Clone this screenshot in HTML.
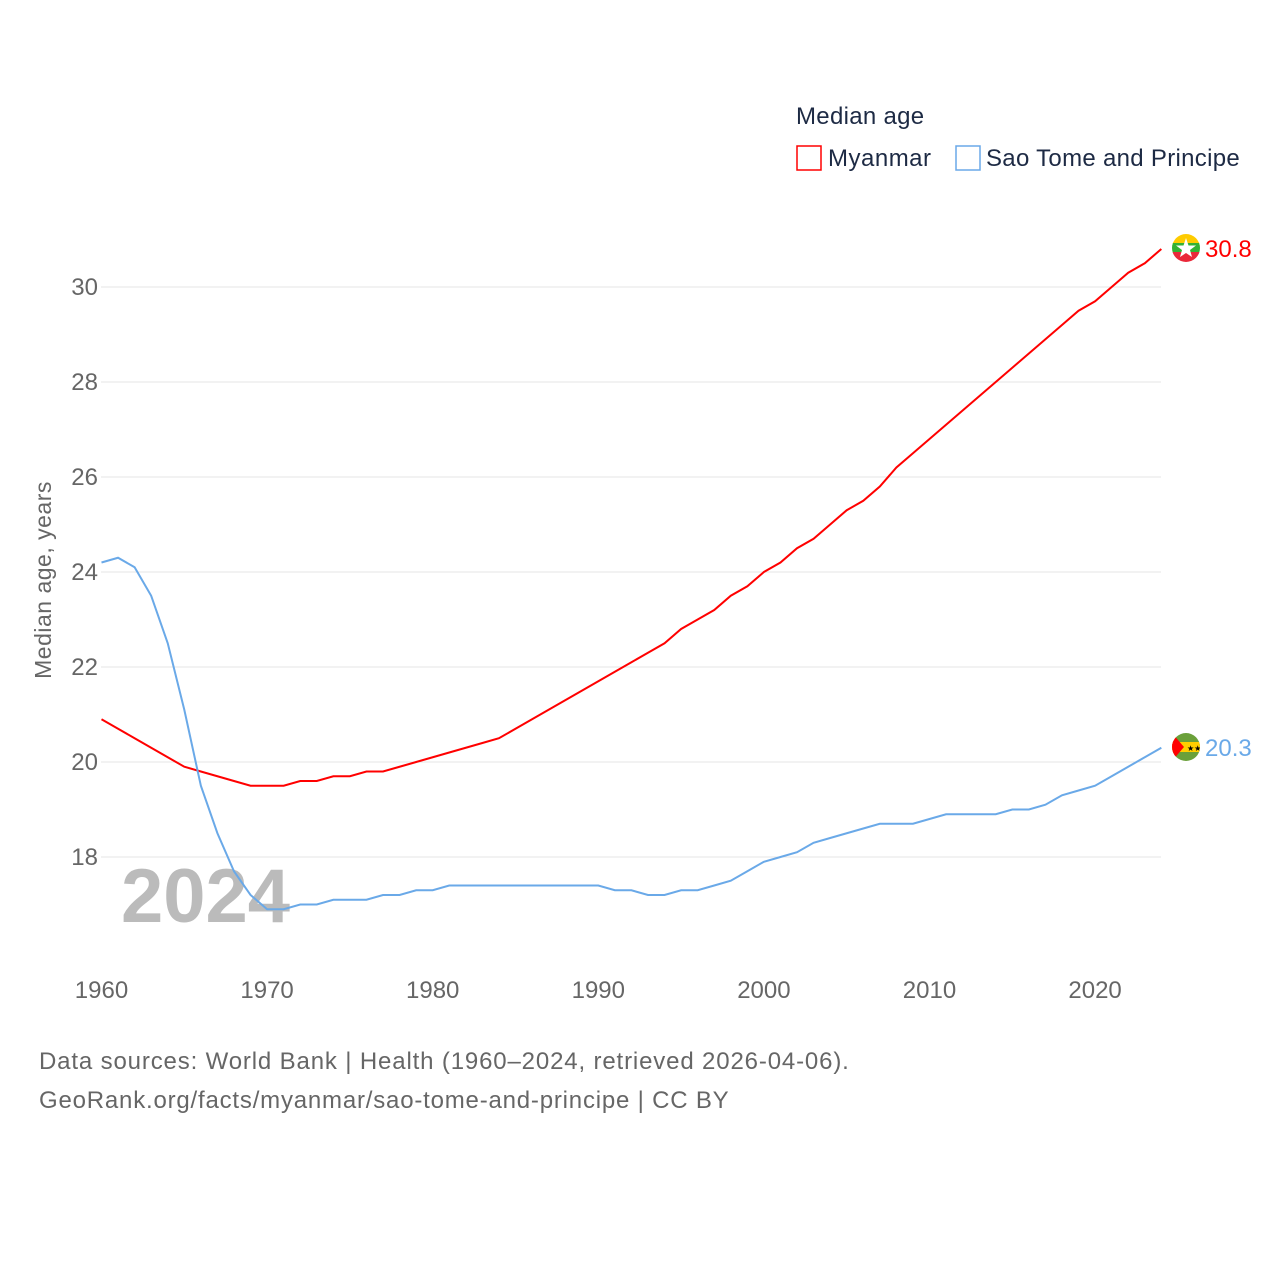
<!DOCTYPE html>
<html><head><meta charset="utf-8"><style>
body{margin:0;background:#fff;font-family:"Liberation Sans",sans-serif;}
svg text{font-family:"Liberation Sans",sans-serif;}
</style></head><body>
<svg id="chart" width="1280" height="1280" xmlns="http://www.w3.org/2000/svg">
<defs>
<clipPath id="c1"><circle cx="1186" cy="248" r="14"/></clipPath>
<clipPath id="c2"><circle cx="1186" cy="747" r="14"/></clipPath>
</defs>
<g id="grid"></g>
<g id="yticks"></g>
<g id="xticks"></g>
<text x="121" y="922" font-size="76" font-weight="bold" fill="#bbb">2024</text>
<text transform="translate(51,580) rotate(-90)" text-anchor="middle" font-size="23" fill="#666" letter-spacing="0.5">Median age, years</text>
<g id="series"></g>
<g>
<text x="796" y="124" font-size="24" fill="#1d2a44" letter-spacing="0.3">Median age</text>
<g><rect x="797" y="146" width="24" height="24" fill="none" stroke="#f00" stroke-width="1.5"/><text x="828" y="166" font-size="24" fill="#1d2a44" letter-spacing="0.5">Myanmar</text></g>
<g><rect x="956" y="146" width="24" height="24" fill="none" stroke="#6aa9e8" stroke-width="1.5"/><text x="986" y="166" font-size="24" fill="#1d2a44" letter-spacing="0.3">Sao Tome and Principe</text></g>
</g>
<text x="39" y="1069" font-size="24" fill="#666" letter-spacing="0.85">Data sources: World Bank | Health (1960–2024, retrieved 2026-04-06).</text>
<text x="39" y="1108" font-size="24" fill="#666" letter-spacing="0.8">GeoRank.org/facts/myanmar/sao-tome-and-principe | CC BY</text>
<g clip-path="url(#c1)">
<rect x="1172" y="234" width="28" height="10" fill="#fecb00"/>
<rect x="1172" y="243" width="28" height="10" fill="#34b233"/>
<rect x="1172" y="252" width="28" height="10" fill="#ea2839"/>
<polygon points="1186,238 1188.5,245.5 1196,245.5 1190,250 1192,257 1186,253 1180,257 1182,250 1176,245.5 1183.5,245.5" fill="#fff"/>
</g>
<g clip-path="url(#c2)">
<rect x="1172" y="733" width="28" height="28" fill="#6aa03a"/>
<rect x="1172" y="742" width="28" height="10" fill="#ffce00"/>
<polygon points="1172,733 1184,747 1172,761" fill="#f00"/>
<text x="1187" y="751" font-size="8" fill="#000">★★</text>
</g>
</svg>
<script>
const years=[];for(let y=1960;y<=2024;y++)years.push(y);
const myanmar=[20.9,20.7,20.5,20.3,20.1,19.9,19.8,19.7,19.6,19.5,19.5,19.5,19.6,19.6,19.7,19.7,19.8,19.8,19.9,20.0,20.1,20.2,20.3,20.4,20.5,20.7,20.9,21.1,21.3,21.5,21.7,21.9,22.1,22.3,22.5,22.8,23.0,23.2,23.5,23.7,24.0,24.2,24.5,24.7,25.0,25.3,25.5,25.8,26.2,26.5,26.8,27.1,27.4,27.7,28.0,28.3,28.6,28.9,29.2,29.5,29.7,30.0,30.3,30.5,30.8];
const saoTome=[24.2,24.3,24.1,23.5,22.5,21.1,19.5,18.5,17.7,17.2,16.9,16.9,17.0,17.0,17.1,17.1,17.1,17.2,17.2,17.3,17.3,17.4,17.4,17.4,17.4,17.4,17.4,17.4,17.4,17.4,17.4,17.3,17.3,17.2,17.2,17.3,17.3,17.4,17.5,17.7,17.9,18.0,18.1,18.3,18.4,18.5,18.6,18.7,18.7,18.7,18.8,18.9,18.9,18.9,18.9,19.0,19.0,19.1,19.3,19.4,19.5,19.7,19.9,20.1,20.3];
const yTicks=[18,20,22,24,26,28,30];
const xTicks=[1960,1970,1980,1990,2000,2010,2020];
const NS="http://www.w3.org/2000/svg";
const x=v=>101.5+(v-1960)*16.56;
const y=v=>762-(v-20)*47.5;
function el(t,a,p){const e=document.createElementNS(NS,t);for(const k in a)e.setAttribute(k,a[k]);p.appendChild(e);return e;}
const grid=document.getElementById('grid'),yt=document.getElementById('yticks'),xt=document.getElementById('xticks');
yTicks.forEach(v=>{
const l=el('line',{x1:101,x2:1161,y1:y(v),y2:y(v),stroke:'#e6e6e6','stroke-width':1},grid);


const t=el('text',{x:98,y:y(v)+8,'text-anchor':'end','font-size':24,fill:'#666'},yt);t.textContent=v;


});
xTicks.forEach(v=>{
const t=el('text',{x:x(v),y:998,'text-anchor':'middle','font-size':24,fill:'#666'},xt);t.textContent=v;


});
const s=document.getElementById('series');
function line(data,color,name,label){
const pts=data.map((v,i)=>x(years[i])+','+y(v)).join(' ');
const p=el('polyline',{points:pts,fill:'none',stroke:color,'stroke-width':2},s);


const last=data[data.length-1];
const t=el('text',{x:1205,y:y(last)+8,'font-size':24,fill:color},s);t.textContent=label;


}
line(myanmar,'#f00','myanmar','30.8');
line(saoTome,'#6aa9e8','sao-tome','20.3');
</script>
</body></html>
